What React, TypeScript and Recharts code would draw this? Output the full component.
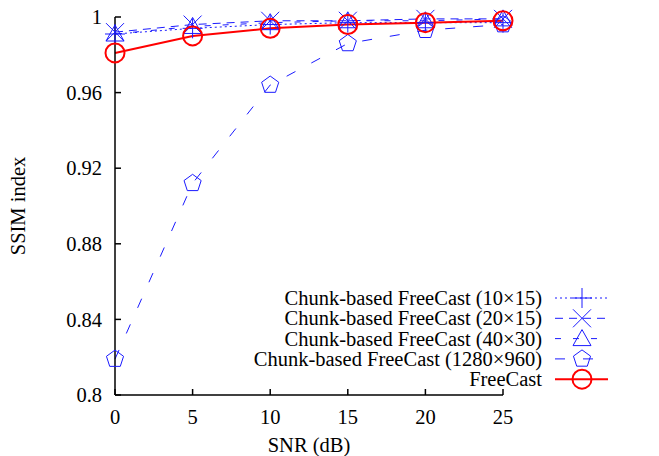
import { LineChart, Line, XAxis, YAxis } from "recharts";

const snr = [0, 5, 10, 15, 20, 25];
const chunk10x15 = [0.991, 0.994, 0.996, 0.997, 0.997, 0.997];
const chunk20x15 = [0.992, 0.996, 0.998, 0.998, 0.999, 0.999];
const chunk40x30 = [0.991, 0.995, 0.997, 0.998, 0.998, 0.999];
const chunk1280x960 = [0.819, 0.912, 0.964, 0.986, 0.993, 0.996];
const freeCast = [0.981, 0.99, 0.994, 0.996, 0.997, 0.998];
const yTicks = [0.8, 0.84, 0.88, 0.92, 0.96, 1];

const data = snr.map((x, i) => ({
  snr: x,
  c10: chunk10x15[i],
  c20: chunk20x15[i],
  c40: chunk40x30[i],
  c1280: chunk1280x960[i],
  fc: freeCast[i],
}));

const BLUE = "#1a1aff";
const RED = "#ff0000";
const FONT = "'Liberation Serif', 'Times New Roman', serif";
const FS = 20.5;

type Shape = "plus" | "cross" | "tri" | "pent" | "circle";

const Marker = ({ cx, cy, shape, color }: { cx: number; cy: number; shape: Shape; color: string }) => {
  const s = { stroke: color, strokeWidth: shape === "circle" ? 2 : 1, fill: "none" };
  if (shape === "plus")
    return <path d={`M${cx - 10},${cy}H${cx + 10}M${cx},${cy - 10}V${cy + 10}`} {...s} />;
  if (shape === "cross")
    return <path d={`M${cx - 9},${cy - 9}L${cx + 9},${cy + 9}M${cx - 9},${cy + 9}L${cx + 9},${cy - 9}`} {...s} />;
  if (shape === "tri")
    return <path d={`M${cx},${cy - 9}L${cx + 9},${cy + 7}L${cx - 9},${cy + 7}Z`} {...s} />;
  if (shape === "pent") {
    const pts = [0, 1, 2, 3, 4]
      .map((k) => {
        const a = -Math.PI / 2 + (k * 2 * Math.PI) / 5;
        return `${cx + 9 * Math.cos(a)},${cy + 9 * Math.sin(a)}`;
      })
      .join(" ");
    return <polygon points={pts} {...s} />;
  }
  return <circle cx={cx} cy={cy} r={9.5} {...s} />;
};

const series = [
  { key: "c10", name: "Chunk-based FreeCast (10×15)", shape: "plus" as Shape, color: BLUE, dash: "2 3", width: 1 },
  { key: "c20", name: "Chunk-based FreeCast (20×15)", shape: "cross" as Shape, color: BLUE, dash: "8 6", width: 1 },
  { key: "c40", name: "Chunk-based FreeCast (40×30)", shape: "tri" as Shape, color: BLUE, dash: "6 12", width: 1 },
  { key: "c1280", name: "Chunk-based FreeCast (1280×960)", shape: "pent" as Shape, color: BLUE, dash: "10 18", width: 1 },
  { key: "fc", name: "FreeCast", shape: "circle" as Shape, color: RED, dash: undefined, width: 2 },
];

// legend drawn as an overlay so it does not take room from the plot
const LegendBox = () => (
  <svg width={380} height={110} style={{ position: "absolute", left: 250, top: 288 }}>
    {series.map((s, i) => {
      const y = 10 + i * 20.3;
      return (
        <g key={s.key}>
          <text x={292} y={y + 7} textAnchor="end" fontFamily={FONT} fontSize={FS} fill="#000">
            {s.name}
          </text>
          <line x1={305} x2={358} y1={y} y2={y} stroke={s.color} strokeWidth={s.width} strokeDasharray={s.dash} />
          <Marker cx={332} cy={y} shape={s.shape} color={s.color} />
        </g>
      );
    })}
  </svg>
);

const tickStyle = { fontFamily: FONT, fontSize: FS, fill: "#000" };

export default function App() {
  return (
    <div style={{ position: "absolute", left: 0, top: 0, width: 659, height: 456, background: "#fff" }}>
      <LineChart width={659} height={456} data={data} margin={{ top: 17, right: 156, bottom: 0, left: 0 }}>
        <XAxis
          dataKey="snr"
          type="number"
          domain={[0, 25]}
          ticks={snr}
          xAxisId="b"
          height={61}
          tickSize={-6}
          tickMargin={20}
          stroke="#000"
          strokeWidth={1.5}
          tick={tickStyle}
          label={{ value: "SNR (dB)", position: "insideBottom", offset: 4, style: tickStyle }}
        />
        <XAxis
          dataKey="snr"
          type="number"
          domain={[0, 25]}
          ticks={snr}
          xAxisId="t"
          orientation="top"
          height={0}
          tickSize={-6}
          stroke="#000"
          strokeWidth={1.5}
          tickFormatter={() => ""}
        />
        <YAxis
          type="number"
          domain={[0.8, 1]}
          ticks={yTicks}
          yAxisId="l"
          width={115}
          tickSize={-6}
          tickMargin={19}
          stroke="#000"
          strokeWidth={1.5}
          tick={tickStyle}
          label={{ value: "SSIM index", angle: -90, position: "insideLeft", offset: 18, style: { ...tickStyle, textAnchor: "middle" } }}
        />
        <YAxis
          type="number"
          domain={[0.8, 1]}
          ticks={yTicks}
          yAxisId="r"
          orientation="right"
          width={0}
          tickSize={-6}
          stroke="#000"
          strokeWidth={1.5}
          tickFormatter={() => ""}
        />
        {series.map((s) => (
          <Line
            key={s.key}
            dataKey={s.key}
            name={s.name}
            xAxisId="b"
            yAxisId="l"
            type="linear"
            stroke={s.color}
            strokeWidth={s.width}
            strokeDasharray={s.dash}
            isAnimationActive={false}
            dot={(p: any) => <Marker key={`${s.key}-${p.index}`} cx={p.cx} cy={p.cy} shape={s.shape} color={s.color} />}
            activeDot={false}
          />
        ))}
      </LineChart>
      <LegendBox />
    </div>
  );
}
